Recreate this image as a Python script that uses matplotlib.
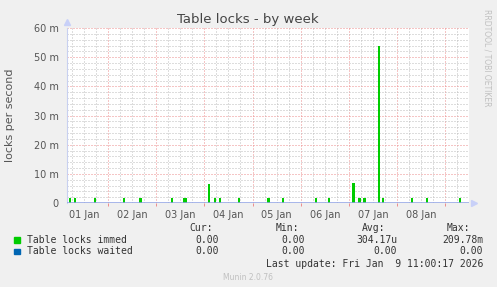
import numpy as np
import matplotlib
matplotlib.use("Agg")
import matplotlib.pyplot as plt

# hours since 01 Jan 00:00 and heights (milli locks per second) of the immed spikes
spike_hours = [5.1, 7.6, 17.5, 32.0, 40.4, 55.9, 62.2, 62.9, 74.3, 77.3, 79.8, 89.3,
               103.8, 111.2, 127.6, 134.1, 146.1, 149.1, 151.6, 159.0, 161.0,
               175.4, 182.9, 199.3]
spike_values = [1.8, 1.8, 1.8, 1.8, 1.8, 1.8, 1.8, 1.8, 6.6, 1.8, 1.8, 1.8,
                1.8, 1.8, 1.8, 1.8, 6.8, 1.8, 1.8, 54.0, 1.8,
                1.8, 1.8, 1.8]
day_labels = ["01 Jan", "02 Jan", "03 Jan", "04 Jan", "05 Jan", "06 Jan", "07 Jan", "08 Jan"]
y_ticks = [0, 10, 20, 30, 40, 50, 60]

legend_names = ["Table locks immed", "Table locks waited"]
legend_colors = ["#00cc00", "#0066b3"]
legend_cur = ["0.00", "0.00"]
legend_min = ["0.00", "0.00"]
legend_avg = ["304.17u", "0.00"]
legend_max = ["209.78m", "0.00"]

W, H = 497, 287
BG = "#f0f0f0"
TXT = "#555555"


def main():
    fig = plt.figure(figsize=(W / 100, H / 100), dpi=100, facecolor=BG)
    ax = fig.add_axes([67 / W, 84 / H, 402 / W, 175 / H])
    ax.set_facecolor("white")
    x0, x1 = 3.6, 203.8
    ax.set_xlim(x0, x1)
    ax.set_ylim(0, 60)

    # grid: gray every 6 h / 2 m, red at midnight / every 10 m
    for h in np.arange(6, x1, 6):
        red = h % 24 == 0
        ax.axvline(h, color="#ec8c8c" if red else "#bdbdbd", lw=0.72,
                   ls=(0, (1, 2)), zorder=1)
    for v in range(2, 61, 2):
        red = v % 10 == 0
        ax.axhline(v, color="#ec8c8c" if red else "#bdbdbd", lw=0.72,
                   ls=(0, (1, 2)), zorder=1)

    ax.bar(spike_hours, spike_values, width=1.4, color=legend_colors[0],
           linewidth=0, zorder=3)
    ax.axhline(0, color="#90a2e4", lw=1.1, zorder=4)

    for s in ["top", "right", "bottom"]:
        ax.spines[s].set_visible(False)
    ax.spines["left"].set_color("#c8d0f0")
    ax.spines["left"].set_linewidth(0.8)
    ax.plot([0], [1.035], marker="^", color="#c8d0f8", ms=4,
            transform=ax.transAxes, clip_on=False)
    ax.plot([1.012], [0], marker=">", color="#c8d0f8", ms=4,
            transform=ax.transAxes, clip_on=False)

    ax.set_yticks(y_ticks)
    ax.set_yticklabels([f"{v} m" if v else "0" for v in y_ticks])
    ax.set_xticks([12 + 24 * i for i in range(len(day_labels))])
    ax.set_xticklabels(day_labels)
    ax.tick_params(axis="both", length=0, labelsize=7, colors=TXT, pad=5)
    ax.tick_params(axis="y", pad=6)
    ax.set_xticks([24 * i for i in range(1, 9)], minor=True)
    ax.tick_params(axis="x", which="minor", length=2.5, width=0.7, color="#ec8c8c")

    fig.text(248 / W, 1 - 19 / H, "Table locks - by week", ha="center",
             va="center", fontsize=9.5, color="#444444")
    fig.text(10 / W, 1 - 115 / H, "locks per second", rotation=90,
             ha="center", va="center", fontsize=8, color=TXT)
    fig.text(487 / W, 1 - 58 / H, "RRDTOOL / TOBI OETIKER", rotation=270,
             ha="center", va="center", fontsize=5.5, color="#c0c0c0")

    mono = dict(family="DejaVu Sans Mono", fontsize=7, color="#333333",
                va="center")
    for xr, head in [(213, "Cur:"), (299, "Min:"), (385, "Avg:"), (470, "Max:")]:
        fig.text(xr / W, 1 - 228 / H, head, ha="right", **mono)
    for i, name in enumerate(legend_names):
        y = 1 - (240 + 11.5 * i) / H
        fig.patches.append(plt.Rectangle((14 / W, y - 2.5 / H), 5.5 / W, 5.5 / H,
                                         transform=fig.transFigure,
                                         color=legend_colors[i]))
        fig.text(27 / W, y, name, ha="left", **mono)
        fig.text(219 / W, y, legend_cur[i], ha="right", **mono)
        fig.text(305 / W, y, legend_min[i], ha="right", **mono)
        fig.text(397 / W, y, legend_avg[i], ha="right", **mono)
        fig.text(483 / W, y, legend_max[i], ha="right", **mono)
    fig.text(483 / W, 1 - 264 / H, "Last update: Fri Jan  9 11:00:17 2026",
             ha="right", **mono)
    fig.text(248 / W, 1 - 277 / H, "Munin 2.0.76", ha="center", va="center",
             fontsize=5.5, color="#c0c0c0")

    fig.savefig("out.png", dpi=100, facecolor=BG)


if __name__ == "__main__":
    main()
